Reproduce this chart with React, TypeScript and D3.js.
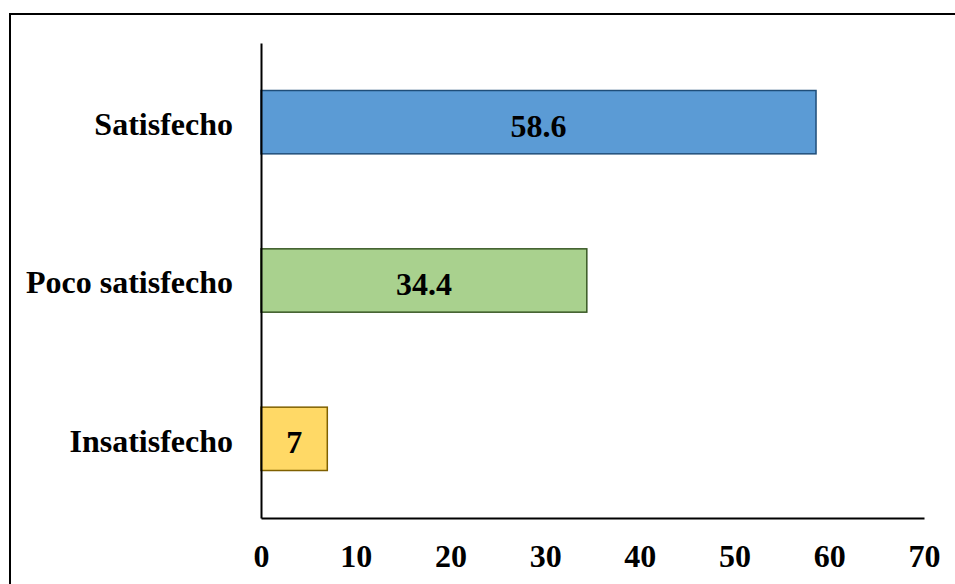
import React, { useEffect, useRef } from "react";
import * as d3 from "d3";

const categories = ["Satisfecho", "Poco satisfecho", "Insatisfecho"];
const values = [58.6, 34.4, 7];
const fills = ["#5B9BD5", "#A9D18E", "#FFD966"];
const strokes = ["#1F4E79", "#385723", "#7F6000"];
const xTicks = [0, 10, 20, 30, 40, 50, 60, 70];

const App: React.FC = () => {
  const svgRef = useRef<SVGSVGElement>(null);

  useEffect(() => {
    if (!svgRef.current) return;
    const width = 955;
    const height = 584;
    const margin = { top: 43, right: 31, bottom: 66, left: 261 };
    const font = "Liberation Serif, Times New Roman, serif";
    const fontSize = "32px";

    const svg = d3.select(svgRef.current);
    svg.selectAll("*").remove();
    svg.attr("width", width).attr("height", height);

    // chart frame
    svg
      .append("rect")
      .attr("x", 10)
      .attr("y", 14)
      .attr("width", 980)
      .attr("height", 620)
      .attr("fill", "white")
      .attr("stroke", "black")
      .attr("stroke-width", 2);

    const x = d3
      .scaleLinear()
      .domain([0, 70])
      .range([margin.left, width - margin.right]);

    const y = d3
      .scaleBand<string>()
      .domain(categories)
      .range([margin.top, height - margin.bottom])
      .paddingInner(0.6)
      .paddingOuter(0.3);

    const rows = categories.map((c, i) => ({
      cat: c,
      value: values[i],
      fill: fills[i],
      stroke: strokes[i]
    }));

    // bars
    svg
      .selectAll("rect.bar")
      .data(rows)
      .enter()
      .append("rect")
      .attr("class", "bar")
      .attr("x", x(0))
      .attr("y", d => y(d.cat)!)
      .attr("width", d => x(d.value) - x(0))
      .attr("height", y.bandwidth())
      .attr("fill", d => d.fill)
      .attr("stroke", d => d.stroke)
      .attr("stroke-width", 1.5);

    // value labels
    svg
      .selectAll("text.val")
      .data(rows)
      .enter()
      .append("text")
      .attr("class", "val")
      .attr("x", d => (x(0) + x(d.value)) / 2)
      .attr("y", d => y(d.cat)! + y.bandwidth() / 2)
      .attr("dy", "0.45em")
      .attr("text-anchor", "middle")
      .attr("font-family", font)
      .attr("font-weight", "bold")
      .attr("font-size", fontSize)
      .text(d => String(d.value));

    // Y AXIS
    const yAxis = svg
      .append("g")
      .attr("transform", `translate(${margin.left},0)`)
      .call(d3.axisLeft(y).tickSize(0).tickPadding(28))
      .attr("font-family", font)
      .attr("font-size", fontSize)
      .attr("font-weight", "bold");
    yAxis.select(".domain").attr("stroke", "black").attr("stroke-width", 2);
    yAxis.selectAll("text").attr("fill", "black").attr("dy", "0.4em");

    // X AXIS
    const xAxis = svg
      .append("g")
      .attr("transform", `translate(0,${height - margin.bottom})`)
      .call(d3.axisBottom(x).tickValues(xTicks).tickSize(0).tickPadding(26))
      .attr("font-family", font)
      .attr("font-size", fontSize)
      .attr("font-weight", "bold");
    xAxis.select(".domain").attr("stroke", "black").attr("stroke-width", 2);
    xAxis.selectAll("text").attr("fill", "black");
  }, []);

  return (
    <svg
      ref={svgRef}
      style={{ position: "absolute", left: 0, top: 0, display: "block" }}
    ></svg>
  );
};

export default App;
